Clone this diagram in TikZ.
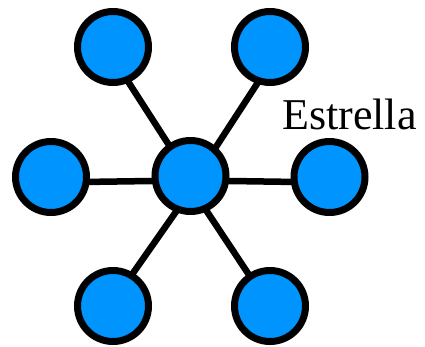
\documentclass[tikz,border=0pt]{standalone}
\usepackage{fontspec}
\setmainfont{Liberation Serif}
\usetikzlibrary{backgrounds}
\definecolor{nodeblue}{RGB}{0,148,255}
\tikzset{
  star/.style={circle,draw=black,fill=nodeblue,line width=7pt,minimum size=71pt,inner sep=0pt,outer sep=0pt},
  link/.style={draw=black,line width=6.5pt}
}
\begin{document}
\begin{tikzpicture}[x=1pt,y=-1pt]
\useasboundingbox (0,0) rectangle (425,346);
\node[star] (c) at (190.5,176) {};
\node[star] (tl) at (113,47) {};
\node[star] (tr) at (270,47) {};
\node[star] (l) at (51,177) {};
\node[star] (r) at (329.5,177) {};
\node[star] (bl) at (113,306) {};
\node[star] (br) at (270,306) {};
\node[font=\fontsize{44}{48}\selectfont,anchor=base west,inner sep=0pt] (lab) at (282,129) {Estrella};
\begin{scope}[on background layer]
\draw[link] (c.125) -- (tl.-67);
\draw[link] (c.48) -- (tr.-108);
\draw[link] (c.188) -- (l.-8);
\draw[link] (c.-8) -- (r.188);
\draw[link] (c.249) -- (bl.59);
\draw[link] (c.-66) -- (br.124);
\end{scope}
\end{tikzpicture}
\end{document}
